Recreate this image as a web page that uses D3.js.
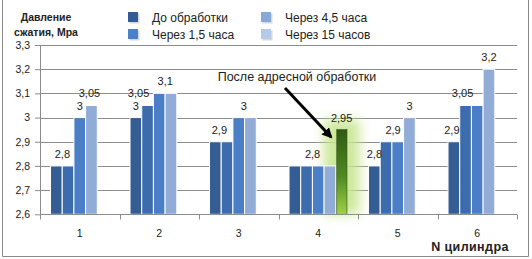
<html>
<head>
<meta charset="utf-8">
<title>Давление сжатия</title>
<style>
  body { margin: 0; background: #fff; }
  text { font-family: "Liberation Sans", Arial, sans-serif; fill: #222; }
</style>
</head>
<body>
<script src="https://cdnjs.cloudflare.com/ajax/libs/d3/7.8.5/d3.min.js"></script>
<script>
// data
var categories = ["1", "2", "3", "4", "5", "6"];
var seriesNames = ["До обработки", "Через 1,5 часа", "Через 4,5 часа", "Через 15 часов"];
var beforeVals = [2.8, 3, 2.9, 2.8, 2.8, 2.9];
var after15Vals = [2.8, 3.05, 2.9, 2.8, 2.9, 3.05];
var after45Vals = [3, 3.1, 3, 2.8, 2.9, 3.05];
var after15hVals = [3.05, 3.1, 3, 2.8, 3, 3.2];
var addressVals = [null, null, null, 2.95, null, null];
var yTicks = [2.6, 2.7, 2.8, 2.9, 3, 3.1, 3.2, 3.3];
// data labels shown: [category index, series index, value]
var dataLabels = [
  [0, 0, 2.8], [0, 2, 3], [0, 3, 3.05],
  [1, 0, 3], [1, 1, 3.05], [1, 2, 3.1],
  [2, 0, 2.9], [2, 2, 3],
  [3, 1, 2.8], [3, 4, 2.95],
  [4, 0, 2.8], [4, 1, 2.9], [4, 3, 3],
  [5, 0, 2.9], [5, 1, 3.05], [5, 3, 3.2]
];

var series = [beforeVals, after15Vals, after45Vals, after15hVals];

var W = 532, H = 259;
var svg = d3.select("body").append("svg")
  .attr("width", W).attr("height", H);

var defs = svg.append("defs");
var grad = defs.append("linearGradient").attr("id", "greenGrad")
  .attr("x1", 0).attr("y1", 0).attr("x2", 0).attr("y2", 1);
grad.append("stop").attr("offset", "0%").attr("stop-color", "#2f5a14");
grad.append("stop").attr("offset", "55%").attr("stop-color", "#4f8a22");
grad.append("stop").attr("offset", "100%").attr("stop-color", "#9fd045");
defs.append("filter").attr("id", "glow")
  .attr("x", "-100%").attr("y", "-20%").attr("width", "300%").attr("height", "140%")
  .append("feGaussianBlur").attr("stdDeviation", 6);
defs.append("marker").attr("id", "arrowHead")
  .attr("viewBox", "0 0 10 10").attr("refX", 8).attr("refY", 5)
  .attr("markerWidth", 3.5).attr("markerHeight", 3.5).attr("orient", "auto")
  .append("path").attr("d", "M0,0 L10,5 L0,10 Z").attr("fill", "#000");

// outer frame
svg.append("path").attr("d", "M2.5,0 V256.5 H528.5 V0")
  .attr("fill", "none").attr("stroke", "#8a8a8a");

var plot = { left: 40, right: 517, top: 45, bottom: 214.3 };

var x = d3.scaleBand().domain(d3.range(categories.length))
  .range([plot.left, plot.right]).padding(0);
var xs = d3.scaleBand().domain(d3.range(5))
  .range([0, x.bandwidth()]).paddingInner(0).paddingOuter(0.9);
var y = d3.scaleLinear().domain([2.6, 3.3]).range([plot.bottom, plot.top]);

// gridlines
svg.append("g").selectAll("line").data(yTicks.slice(1)).join("line")
  .attr("x1", plot.left).attr("x2", plot.right)
  .attr("y1", function(d){ return Math.round(y(d)) + 0.5; })
  .attr("y2", function(d){ return Math.round(y(d)) + 0.5; })
  .attr("stroke", "#8c8c8c").attr("stroke-width", 1);

var barColors = ["#345d93", "#3c6cae", "#4a7fc7", "#91acd7"];
var legendColors = ["#335c94", "#4b81cb", "#88a9d8", "#b6cae7"];

// glow behind address bar
var gi = 3;
svg.append("rect")
  .attr("x", x(gi) + xs(4) - 12).attr("width", xs.bandwidth() + 24)
  .attr("y", y(addressVals[gi]) - 10).attr("height", plot.bottom - y(addressVals[gi]) + 10)
  .attr("fill", "#c8e58f").attr("opacity", 0.9).attr("filter", "url(#glow)");

// bars
series.forEach(function(vals, si){
  svg.append("g").selectAll("rect").data(vals).join("rect")
    .attr("x", function(d, i){ return x(i) + xs(si); })
    .attr("width", xs.bandwidth())
    .attr("y", function(d){ return y(d); })
    .attr("height", function(d){ return plot.bottom - y(d); })
    .attr("fill", barColors[si])
    .attr("stroke", "#fff").attr("stroke-width", 1);
});
svg.append("g").selectAll("rect")
  .data(addressVals.map(function(v, i){ return { v: v, i: i }; }).filter(function(d){ return d.v != null; }))
  .join("rect")
  .attr("x", function(d){ return x(d.i) + xs(4) + 1; })
  .attr("width", xs.bandwidth() - 1.5)
  .attr("y", function(d){ return y(d.v); })
  .attr("height", function(d){ return plot.bottom - y(d.v); })
  .attr("fill", "url(#greenGrad)").attr("stroke", "#2c4d12").attr("stroke-width", 0.6);

// axes
var yAxis = d3.axisLeft(y).tickValues(yTicks).tickSize(5).tickPadding(5)
  .tickFormat(function(d){ return d3.format(".1f")(d).replace(".", ",").replace(",0", ""); });
var gy = svg.append("g").attr("transform", "translate(" + plot.left + ",0)").call(yAxis);
gy.select(".domain").attr("stroke", "#8c8c8c").attr("d", "M0.5," + plot.top + "V" + plot.bottom);
gy.selectAll(".tick line").attr("stroke", "#8c8c8c");
gy.selectAll(".tick text").attr("font-size", 10.5).attr("fill", "#333")
  .attr("font-family", "Liberation Sans, Arial, sans-serif");

var gx = svg.append("g").attr("transform", "translate(0," + Math.round(plot.bottom) + ".5)");
gx.append("line").attr("x1", plot.left).attr("x2", plot.right).attr("stroke", "#8c8c8c");
gx.selectAll("line.tk").data(d3.range(categories.length + 1)).join("line").attr("class", "tk")
  .attr("x1", function(d){ return Math.round(plot.left + d * x.step()) + 0.5; })
  .attr("x2", function(d){ return Math.round(plot.left + d * x.step()) + 0.5; })
  .attr("y1", 0).attr("y2", 5).attr("stroke", "#8c8c8c");
gx.selectAll("text").data(categories).join("text")
  .attr("x", function(d, i){ return x(i) + x.bandwidth() / 2; })
  .attr("y", 22).attr("text-anchor", "middle").attr("font-size", 10.5).attr("fill", "#333")
  .text(function(d){ return d; });

// data labels
var labelNudge = [6, 0, -2, 0, -9, 6, 4, 5, 6, 0, 0, 7, 0, -2, -3, 0];
svg.append("g").selectAll("text").data(dataLabels).join("text")
  .attr("x", function(d, k){ return x(d[0]) + xs(d[1]) + xs.bandwidth() / 2 + labelNudge[k]; })
  .attr("y", function(d){ return y(d[2]) - 8; })
  .attr("text-anchor", "middle").attr("font-size", 11)
  .text(function(d){ return String(d[2]).replace(".", ","); });

// axis titles
var yt = svg.append("text").attr("font-size", 10.5).attr("font-weight", "bold")
  .attr("text-anchor", "middle");
yt.append("tspan").attr("x", 46).attr("y", 21).text("Давление");
yt.append("tspan").attr("x", 46).attr("y", 36).text("сжатия, Мра");
svg.append("text").attr("x", 470).attr("y", 251).attr("text-anchor", "middle")
  .attr("font-size", 12.5).attr("font-weight", "bold").attr("letter-spacing", 0.4)
  .text("N цилиндра");

// legend
var legend = svg.append("g").selectAll("g").data(seriesNames).join("g")
  .attr("transform", function(d, i){
    return "translate(" + (i < 2 ? 128 : 261) + "," + (i % 2 === 0 ? 12 : 29) + ")";
  });
legend.append("rect").attr("x", 1.5).attr("y", 1.5).attr("width", 10).attr("height", 10)
  .attr("fill", "#d8d8d8");
legend.append("rect").attr("width", 10).attr("height", 10)
  .attr("fill", function(d, i){ return legendColors[i]; });
legend.append("text").attr("x", 24).attr("y", 9.5).attr("font-size", 12)
  .text(function(d){ return d; });

// annotation
svg.append("text").attr("x", 297).attr("y", 81).attr("text-anchor", "middle")
  .attr("font-size", 12.5).text("После адресной обработки");
svg.append("line").attr("x1", 285).attr("y1", 88).attr("x2", 331).attr("y2", 137)
  .attr("stroke", "#000").attr("stroke-width", 3).attr("marker-end", "url(#arrowHead)");
</script>
</body>
</html>
